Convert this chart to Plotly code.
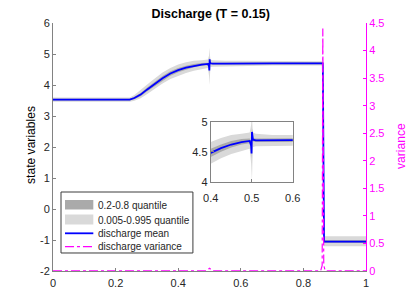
import plotly.graph_objects as go

# ---------------- data ----------------
x = [0, 0.1, 0.2, 0.245, 0.26, 0.28, 0.30, 0.32, 0.35, 0.375, 0.40, 0.425, 0.45, 0.475, 0.495,
     0.4985, 0.4995, 0.5005, 0.5015, 0.503, 0.51, 0.55, 0.6, 0.7, 0.8, 0.86, 0.862, 0.866, 0.9, 1.0]
mean = [3.53, 3.53, 3.53, 3.53, 3.58, 3.69, 3.85, 4.00, 4.22, 4.37, 4.48, 4.56, 4.62, 4.66, 4.68,
        4.60, 4.47, 4.83, 4.74, 4.70, 4.69, 4.69, 4.70, 4.70, 4.70, 4.70, 4.70, -1.05, -1.05, -1.05]
q995 = [3.60, 3.60, 3.60, 3.60, 3.68, 3.83, 4.01, 4.17, 4.40, 4.55, 4.66, 4.73, 4.78, 4.80, 4.82,
        4.95, 5.15, 5.20, 4.95, 4.82, 4.80, 4.78, 4.78, 4.77, 4.77, 4.77, 4.77, -0.88, -0.88, -0.88]
q005 = [3.46, 3.46, 3.46, 3.46, 3.49, 3.57, 3.70, 3.84, 4.05, 4.19, 4.30, 4.39, 4.46, 4.51, 4.55,
        4.30, 4.00, 4.00, 4.30, 4.58, 4.59, 4.60, 4.60, 4.63, 4.63, 4.63, 4.63, -1.20, -1.20, -1.20]
q80 = [3.56, 3.56, 3.56, 3.56, 3.62, 3.74, 3.91, 4.07, 4.29, 4.44, 4.55, 4.62, 4.68, 4.71, 4.72,
       4.68, 4.60, 4.90, 4.78, 4.73, 4.72, 4.72, 4.72, 4.73, 4.73, 4.73, 4.73, -1.00, -1.00, -1.00]
q20 = [3.50, 3.50, 3.50, 3.50, 3.54, 3.64, 3.79, 3.93, 4.15, 4.30, 4.41, 4.50, 4.57, 4.62, 4.64,
       4.52, 4.38, 4.76, 4.70, 4.67, 4.66, 4.66, 4.67, 4.67, 4.67, 4.67, 4.67, -1.10, -1.10, -1.10]

x_var = [0, 0.49, 0.5, 0.51, 0.855, 0.86, 0.862, 0.865, 0.87, 1.0]
variance = [0.003, 0.003, 0.05, 0.003, 0.003, 0.1, 4.4, 0.1, 0.003, 0.003]

title = "Discharge (T = 0.15)"
y_left_ticks = [-2, -1, 0, 1, 2, 3, 4, 5, 6]
y_left_text = ["-2", "-1", "0", "1", "2", "3", "4", "5", "6"]
legend_labels = ["0.2-0.8 quantile", "0.005-0.995 quantile", "discharge mean", "discharge variance"]

# ---------------- style ----------------
DARK = "rgb(170,170,170)"
LIGHT = "rgb(217,217,217)"
BLUE = "rgb(0,0,255)"
MAG = "rgb(255,0,255)"
AX = "rgb(130,130,130)"
TXT = "rgb(38,38,38)"
FONT = "Liberation Sans, Arial, sans-serif"

fig = go.Figure()


def add_set(xa, ya):
    fig.add_trace(go.Scatter(x=x, y=q005, mode="lines", line=dict(width=0, color=LIGHT),
                             hoverinfo="skip", xaxis=xa, yaxis=ya))
    fig.add_trace(go.Scatter(x=x, y=q995, mode="lines", line=dict(width=0, color=LIGHT),
                             fill="tonexty", fillcolor=LIGHT, name=legend_labels[1],
                             xaxis=xa, yaxis=ya))
    fig.add_trace(go.Scatter(x=x, y=q20, mode="lines", line=dict(width=0, color=DARK),
                             hoverinfo="skip", xaxis=xa, yaxis=ya))
    fig.add_trace(go.Scatter(x=x, y=q80, mode="lines", line=dict(width=0, color=DARK),
                             fill="tonexty", fillcolor=DARK, name=legend_labels[0],
                             xaxis=xa, yaxis=ya))
    fig.add_trace(go.Scatter(x=x, y=mean, mode="lines", line=dict(width=1.8, color=BLUE),
                             name=legend_labels[2], xaxis=xa, yaxis=ya))


add_set("x", "y")
fig.add_trace(go.Scatter(x=x_var, y=variance, mode="lines",
                         line=dict(width=1.2, color=MAG, dash="dashdot"),
                         name=legend_labels[3], xaxis="x", yaxis="y2"))
add_set("x2", "y3")

# ---------------- manual legend (MATLAB-style compact box) ----------------
shapes = [
    dict(type="rect", xref="paper", yref="paper", x0=0.0256, x1=0.447, y0=0.0726, y1=0.3185,
         fillcolor="white", line=dict(color="rgb(60,60,60)", width=1), layer="above"),
    dict(type="rect", xref="paper", yref="paper", x0=0.0383, x1=0.1288, y0=0.248, y1=0.2863,
         fillcolor=DARK, line=dict(width=0), layer="above"),
    dict(type="rect", xref="paper", yref="paper", x0=0.0383, x1=0.1288, y0=0.1875, y1=0.2278,
         fillcolor=LIGHT, line=dict(width=0), layer="above"),
    dict(type="line", xref="paper", yref="paper", x0=0.0383, x1=0.1288, y0=0.152, y1=0.152,
         line=dict(color=BLUE, width=1.8), layer="above"),
    dict(type="line", xref="paper", yref="paper", x0=0.0383, x1=0.1288, y0=0.098, y1=0.098,
         line=dict(color=MAG, width=1.2, dash="dashdot"), layer="above"),
]
row_y = [0.266, 0.2056, 0.152, 0.098]
annotations = [
    dict(text=t, xref="paper", yref="paper", x=0.1364, y=yy, xanchor="left", yanchor="middle",
         showarrow=False, font=dict(family=FONT, size=10, color=TXT))
    for t, yy in zip(legend_labels, row_y)
]
annotations += [
    dict(text="state variables", xref="paper", yref="paper", x=(31 - 53) / 313, y=(271 - 145) / 248,
         textangle=-90, xanchor="center", yanchor="middle", showarrow=False,
         font=dict(family=FONT, size=12.1, color="black")),
    dict(text="variance", xref="paper", yref="paper", x=(401 - 53) / 313, y=(271 - 146) / 248,
         textangle=-90, xanchor="center", yanchor="middle", showarrow=False,
         font=dict(family=FONT, size=12.1, color=MAG)),
]

tickfont = dict(family=FONT, size=11, color=TXT)
fig.update_layout(
    width=407, height=305,
    margin=dict(l=53, r=41, t=23, b=34, autoexpand=False),
    paper_bgcolor="white", plot_bgcolor="white",
    font=dict(family=FONT, size=11, color=TXT),
    title=dict(text="<b>" + title + "</b>", x=0.504, xref="paper", xanchor="center",
               y=1 - 13.5 / 305, yref="container", yanchor="middle",
               font=dict(family=FONT, size=12.5, color="black")),
    showlegend=False,
    shapes=shapes,
    annotations=annotations,
    xaxis=dict(range=[0, 1], tickvals=[0, 0.2, 0.4, 0.6, 0.8, 1], ticktext=["0", "0.2", "0.4", "0.6", "0.8", "1"],
               showline=True, linecolor=AX, ticks="inside", ticklen=3, tickcolor=AX, ticklabelstandoff=2,
               showgrid=False, zeroline=False, tickfont=tickfont, domain=[0, 1], anchor="y"),
    yaxis=dict(range=[-2, 6], tickvals=y_left_ticks, ticktext=y_left_text,
               showline=True, linecolor=AX, ticks="inside", ticklen=3, tickcolor=AX,
               showgrid=False, zeroline=False, tickfont=tickfont),
    yaxis2=dict(range=[0, 4.5], dtick=0.5, overlaying="y", side="right", anchor="x",
                showline=True, linecolor=MAG, ticks="inside", ticklen=3, tickcolor=MAG,
                showgrid=False, zeroline=False, tickfont=dict(family=FONT, size=11, color=MAG)),
    xaxis2=dict(range=[0.4, 0.6], tickvals=[0.4, 0.5, 0.6], ticktext=["0.4", "0.5", "0.6"],
                domain=[0.504, 0.766], anchor="y3", showline=True, mirror=True, linecolor=AX,
                ticks="inside", ticklen=3, tickcolor=AX, ticklabelstandoff=6,
                showgrid=False, zeroline=False, tickfont=tickfont),
    yaxis3=dict(range=[4, 5], tickvals=[4, 4.5, 5], ticktext=["4", "4.5", "5"],
                domain=[0.360, 0.602], anchor="x2", showline=True, mirror=True, linecolor=AX,
                ticks="inside", ticklen=3, tickcolor=AX, showgrid=False, zeroline=False, tickfont=tickfont),
)

fig.write_html("out.html", config={"displayModeBar": False},
               post_script="document.body.style.margin='0';document.body.style.overflow='hidden';")
